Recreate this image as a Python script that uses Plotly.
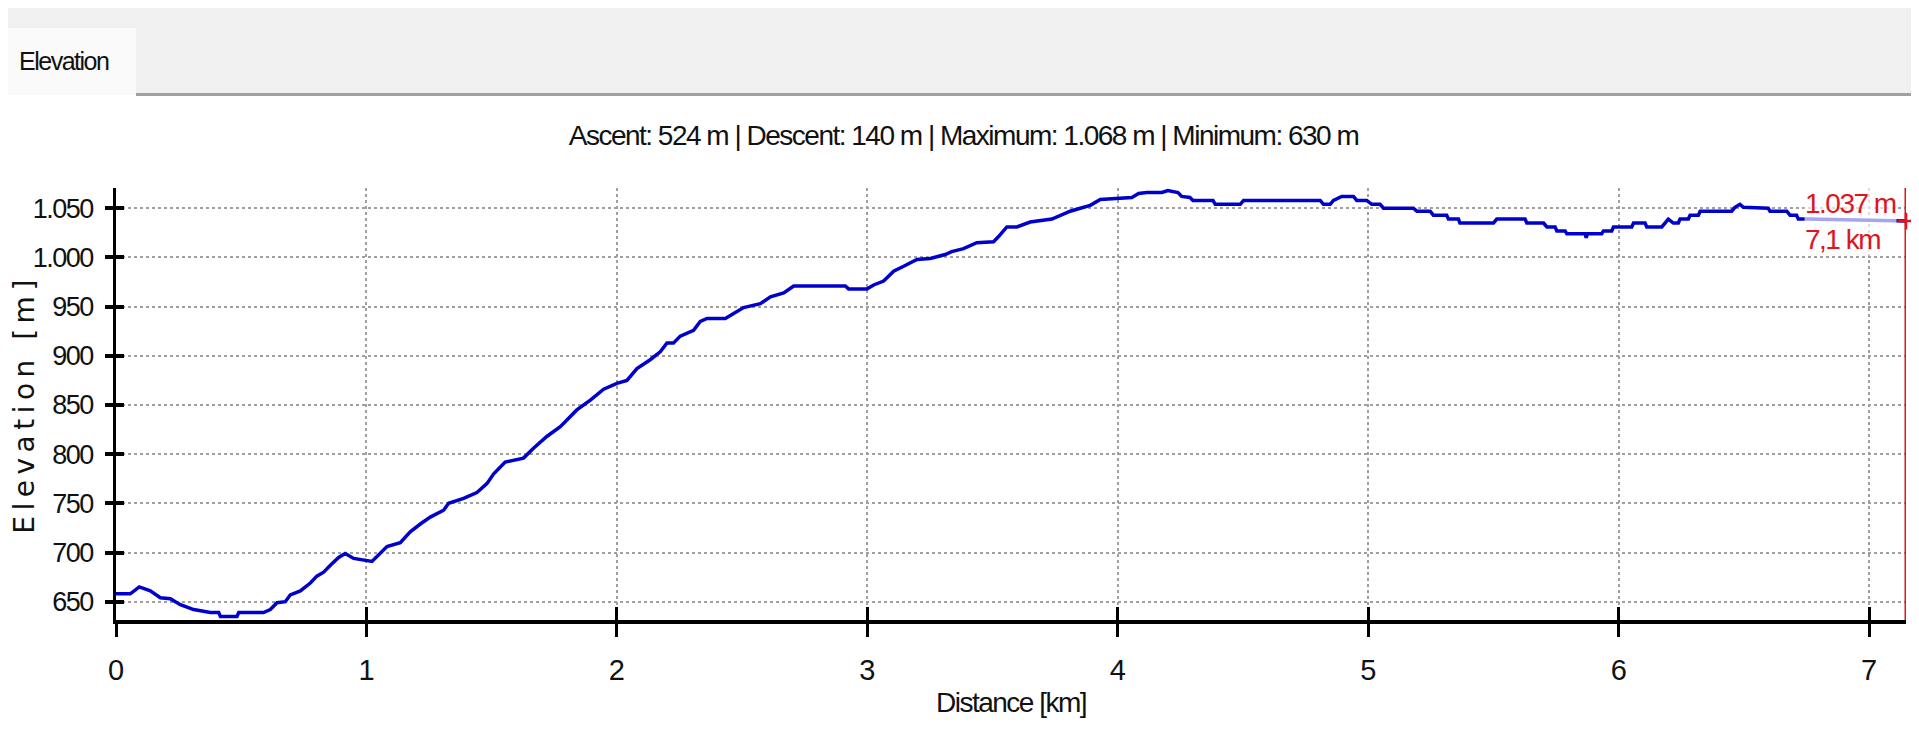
import plotly.graph_objects as go

# ==============================
# Data
# ==============================

distance_km = [
    0, 0.057, 0.093, 0.137, 0.177, 0.217, 0.257, 0.31, 0.377, 0.41, 0.417, 0.483, 0.49, 0.589,
    0.616, 0.643, 0.676, 0.696, 0.736, 0.776, 0.802, 0.829, 0.856, 0.889, 0.915, 0.949, 1.022,
    1.042, 1.082, 1.135, 1.175, 1.215, 1.255, 1.308, 1.328, 1.388, 1.441, 1.481, 1.508, 1.554,
    1.627, 1.667, 1.72, 1.774, 1.84, 1.894, 1.947, 2.0, 2.04, 2.08, 2.133, 2.173, 2.2, 2.226,
    2.253, 2.306, 2.333, 2.36, 2.433, 2.466, 2.506, 2.573, 2.613, 2.666, 2.706, 2.912, 2.925,
    2.998, 3.025, 3.065, 3.105, 3.145, 3.171, 3.198, 3.251, 3.311, 3.337, 3.384, 3.437, 3.504,
    3.523, 3.557, 3.597, 3.65, 3.737, 3.77, 3.81, 3.85, 3.89, 3.93, 4.056, 4.083, 4.116, 4.176,
    4.2, 4.24, 4.255, 4.288, 4.3, 4.38, 4.389, 4.489, 4.502, 4.808, 4.821, 4.848, 4.861, 4.894,
    4.941, 4.954, 4.994, 5.014, 5.047, 5.061, 5.18, 5.194, 5.247, 5.26, 5.313, 5.32, 5.36, 5.366,
    5.5, 5.513, 5.626, 5.633, 5.7, 5.713, 5.746, 5.753, 5.786, 5.793, 5.866, 5.87, 5.875, 5.932,
    5.939, 5.972, 5.979, 6.052, 6.059, 6.105, 6.112, 6.172, 6.185, 6.198, 6.218, 6.238, 6.245,
    6.278, 6.285, 6.318, 6.325, 6.451, 6.464, 6.484, 6.498, 6.597, 6.604, 6.671, 6.684, 6.71,
    6.717, 6.757, 7.147,
]
elevation_m = [
    658, 658, 665, 661, 654, 653, 647, 642, 639, 639, 635, 635, 639, 639,
    642, 649, 650, 657, 661, 669, 676, 680, 687, 695, 699, 694, 691,
    696, 706, 710, 721, 729, 736, 743, 750, 755, 761, 770, 780, 792,
    796, 806, 818, 828, 845, 855, 866, 872, 875, 887, 896, 904, 913, 913,
    920, 926, 935, 938, 938, 943, 949, 953, 960, 964, 971, 971, 968,
    968, 972, 976, 986, 991, 994, 998, 999, 1003, 1006, 1009, 1015, 1016,
    1021, 1031, 1031, 1036, 1039, 1043, 1047, 1050, 1053, 1059, 1061, 1065, 1066, 1066,
    1068, 1066, 1062, 1061, 1058, 1058, 1054, 1054, 1058, 1058, 1054, 1054, 1058, 1062,
    1062, 1058, 1058, 1054, 1054, 1050, 1050, 1047, 1047, 1043, 1043, 1039, 1039, 1035,
    1035, 1039, 1039, 1035, 1035, 1031, 1031, 1027, 1027, 1024, 1024, 1020, 1024, 1024,
    1027, 1027, 1031, 1031, 1035, 1035, 1031, 1031, 1035, 1039, 1035, 1035, 1039,
    1039, 1043, 1043, 1047, 1047, 1051, 1054, 1051, 1050, 1047, 1047, 1043, 1043,
    1039, 1039, 1037,
]

x_tick_vals = [0, 1, 2, 3, 4, 5, 6, 7]
x_tick_text = ["0", "1", "2", "3", "4", "5", "6", "7"]
y_tick_vals = [650, 700, 750, 800, 850, 900, 950, 1000, 1050]
y_tick_text = ["650", "700", "750", "800", "850", "900", "950", "1.000", "1.050"]

cursor_km = 7.147
cursor_elev = 1037
cursor_lines = ["1.037 m", "7,1 km"]
summary = "Ascent: 524 m | Descent: 140 m | Maximum: 1.068 m | Minimum: 630 m"

# ==============================
# Layout helpers
# ==============================

# the page body keeps an 8 px margin, so the figure is 8 px smaller than the window
OFF = 8
W, H = 1919 - OFF, 736 - OFF
L, R, T, B = 116 - OFF, 13, 188 - OFF, 116
PW, PH = W - L - R, H - T - B


def px_x(wx):
    # window pixel -> paper coordinate
    return (wx - OFF - L) / PW


def px_y(wy):
    return (H - B - (wy - OFF)) / PH


def tight(text, spacing=-1.5):
    # the original uses a narrow font; squeeze a regular one a little
    return f'<span style="letter-spacing:{spacing}px">{text}</span>'


SANS = "Liberation Sans, Arial, sans-serif"
RED = "#E0141E"
GRID = "#A0A0A0"
INK = "#111111"
x_range = [0, cursor_km]
y_range = [631.4, 1070.6]

# ==============================
# Figure
# ==============================

fig = go.Figure()

fig.add_trace(go.Scatter(
    x=distance_km, y=elevation_m, mode="lines",
    line=dict(color="#0000CD", width=3.5), hoverinfo="skip", showlegend=False,
))

fig.add_trace(go.Scatter(
    x=[cursor_km], y=[cursor_elev], mode="markers", cliponaxis=False,
    marker=dict(symbol="cross-thin", size=12, line=dict(color=RED, width=2.5)),
    hoverinfo="skip", showlegend=False,
))

# invisible trace so the overlay axes (inward half of the ticks) get drawn
fig.add_trace(go.Scatter(
    x=[0], y=[650], xaxis="x2", yaxis="y2", mode="markers",
    marker=dict(opacity=0), hoverinfo="skip", showlegend=False,
))

fig.update_layout(
    template="none",
    width=W, height=H,
    margin=dict(l=L, r=R, t=T, b=B, pad=0),
    paper_bgcolor="white", plot_bgcolor="white",
    title=dict(text=tight(summary), x=0.5, xref="container", xanchor="center",
               y=1 - (135 - OFF) / H, yref="container", yanchor="middle",
               font=dict(family=SANS, size=28, color=INK)),
    xaxis=dict(
        automargin=False,
        range=x_range, tickvals=x_tick_vals, ticktext=x_tick_text,
        ticks="outside", ticklen=13, tickwidth=2.5, tickcolor="black",
        showline=True, linewidth=4, linecolor="black",
        showgrid=True, gridcolor=GRID, gridwidth=1.5, griddash="dot", zeroline=False,
        tickfont=dict(family=SANS, size=29, color=INK), ticklabelstandoff=8,
        title=dict(text=tight("Distance [km]"), standoff=9,
                   font=dict(family=SANS, size=28, color=INK)),
    ),
    yaxis=dict(
        automargin=False,
        range=y_range, tickvals=y_tick_vals, ticktext=[tight(t) for t in y_tick_text],
        ticks="outside", ticklen=8, tickwidth=3.5, tickcolor="black",
        showline=True, linewidth=2.5, linecolor="black",
        showgrid=True, gridcolor=GRID, gridwidth=1.5, griddash="dot", zeroline=False,
        tickfont=dict(family=SANS, size=27, color=INK), ticklabelstandoff=7,
        title=dict(text=tight("Elevation [m]", 5.5), standoff=15,
                   font=dict(family="DejaVu Sans", size=28, color=INK)),
    ),
    xaxis2=dict(
        automargin=False,
        overlaying="x", anchor="y2", side="bottom", range=x_range, tickvals=x_tick_vals,
        ticks="inside", ticklen=13, tickwidth=2.5, tickcolor="black",
        showticklabels=False, showgrid=False, showline=False, zeroline=False,
    ),
    yaxis2=dict(
        automargin=False,
        overlaying="y", anchor="x2", side="left", range=y_range, tickvals=y_tick_vals,
        ticks="inside", ticklen=8, tickwidth=3.5, tickcolor="black",
        showticklabels=False, showgrid=False, showline=False, zeroline=False,
    ),
    shapes=[
        # tab strip at the top
        dict(type="rect", xref="paper", yref="paper", x0=px_x(OFF), x1=px_x(1919),
             y0=px_y(95), y1=px_y(OFF), fillcolor="#F0F0F0", line_width=0, layer="below"),
        dict(type="rect", xref="paper", yref="paper", x0=px_x(OFF), x1=px_x(136),
             y0=px_y(95), y1=px_y(28), fillcolor="#FAFAFA", line_width=0, layer="below"),
        dict(type="line", xref="paper", yref="paper", x0=px_x(136), x1=px_x(1919),
             y0=px_y(94.5), y1=px_y(94.5), line=dict(color="#A0A0A0", width=3)),
        # cursor line
        dict(type="line", xref="x", yref="paper", x0=cursor_km, x1=cursor_km, y0=0, y1=1,
             line=dict(color=RED, width=3)),
    ],
    annotations=[
        dict(text=tight("Elevation"), xref="paper", yref="paper", x=px_x(64), y=px_y(61),
             xanchor="center", yanchor="middle", showarrow=False,
             font=dict(family=SANS, size=25, color=INK)),
        dict(text="<br>".join(tight(t) for t in cursor_lines), xref="x", yref="y",
             x=cursor_km, y=cursor_elev, xanchor="right", yanchor="middle", align="left",
             showarrow=False, xshift=-9, bgcolor="rgba(255,255,255,0.65)", borderpad=0,
             font=dict(family=SANS, size=28, color=RED)),
    ],
)

fig.write_html("out.html")
